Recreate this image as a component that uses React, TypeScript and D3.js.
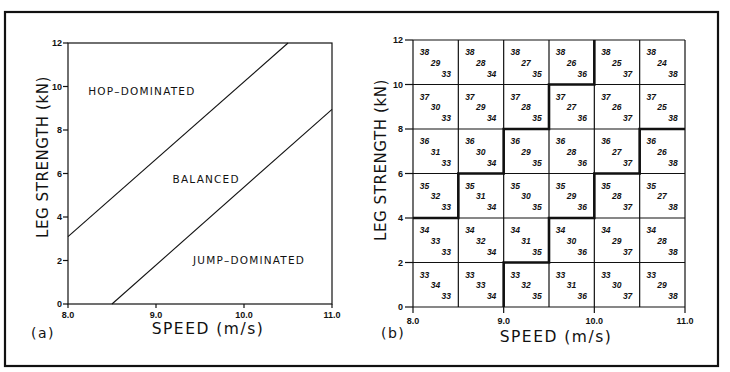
import * as d3 from "d3";
import { useLayoutEffect } from "react";

// panel (a): boundary lines in speed / strength space
const hopLine = [
  { speed: 8.0, strength: 3.1 },
  { speed: 10.5, strength: 12.0 },
];
const jumpLine = [
  { speed: 8.5, strength: 0.0 },
  { speed: 11.0, strength: 8.95 },
];
const regionLabels = [
  { text: "HOP–DOMINATED", speed: 8.23, strength: 9.8, anchor: "start" },
  { text: "BALANCED", speed: 9.57, strength: 5.75, anchor: "middle" },
  { text: "JUMP–DOMINATED", speed: 9.42, strength: 2.0, anchor: "start" },
];

const speedTicks = [8.0, 9.0, 10.0, 11.0];
const strengthTicks = [0, 2, 4, 6, 8, 10, 12];

// panel (b): grid of cells
const cellSpeeds = [8.0, 8.5, 9.0, 9.5, 10.0, 10.5];
const cellStrengths = [10, 8, 6, 4, 2, 0];
const rowFirst = [38, 37, 36, 35, 34, 33];
const cellMiddle = [
  [29, 28, 27, 26, 25, 24],
  [30, 29, 28, 27, 26, 25],
  [31, 30, 29, 28, 27, 26],
  [32, 31, 30, 29, 28, 27],
  [33, 32, 31, 30, 29, 28],
  [34, 33, 32, 31, 30, 29],
];
const colLast = [33, 34, 35, 36, 37, 38];

const hopBoundary: [number, number][] = [
  [8.0, 4], [8.5, 4], [8.5, 6], [9.0, 6], [9.0, 8], [9.5, 8], [9.5, 10], [10.0, 10], [10.0, 12],
];
const jumpBoundary: [number, number][] = [
  [9.0, 0], [9.0, 2], [9.5, 2], [9.5, 4], [10.0, 4], [10.0, 6], [10.5, 6], [10.5, 8], [11.0, 8],
];

const FONT = "'DejaVu Sans', 'Liberation Sans', sans-serif";
const TICKFONT = "'Liberation Sans', Arial, sans-serif";
const INK = "#111";

function PanelA() {
  const x = d3.scaleLinear().domain([8, 11]).range([68, 332]);
  const y = d3.scaleLinear().domain([0, 12]).range([304, 43]);
  const line = d3
    .line<{ speed: number; strength: number }>()
    .x((d) => x(d.speed))
    .y((d) => y(d.strength));
  return (
    <g>
      <rect x={x(8)} y={y(12)} width={x(11) - x(8)} height={y(0) - y(12)} fill="none" stroke={INK} strokeWidth={1.2} />
      {strengthTicks.map((t) => (
        <g key={t}>
          <line x1={x(8) - 5} x2={x(8)} y1={y(t)} y2={y(t)} stroke={INK} strokeWidth={1.2} />
          <text x={x(8) - 6} y={y(t)} dy="0.35em" textAnchor="end" fontSize={9} fontWeight={700} fontFamily={TICKFONT} fill={INK}>
            {t}
          </text>
        </g>
      ))}
      {speedTicks.map((t) => (
        <g key={t}>
          <line x1={x(t)} x2={x(t)} y1={y(0)} y2={y(0) + 4} stroke={INK} strokeWidth={1.2} />
          <text x={x(t)} y={y(0) + 14} textAnchor="middle" fontSize={9} fontWeight={700} fontFamily={TICKFONT} fill={INK}>
            {t.toFixed(1)}
          </text>
        </g>
      ))}
      <path d={line(hopLine) || ""} fill="none" stroke={INK} strokeWidth={1.1} />
      <path d={line(jumpLine) || ""} fill="none" stroke={INK} strokeWidth={1.1} />
      {regionLabels.map((r) => (
        <text key={r.text} x={x(r.speed)} y={y(r.strength)} dy="0.35em" textAnchor={r.anchor} fontSize={10.5} letterSpacing={1.2} fontFamily={FONT} fill={INK}>
          {r.text}
        </text>
      ))}
      <text x={208} y={334} textAnchor="middle" fontSize={15.5} letterSpacing={1.5} fontFamily={FONT} fill={INK}>
        SPEED (m/s)
      </text>
      <text transform="translate(48,157) rotate(-90)" textAnchor="middle" fontSize={15} letterSpacing={0.6} fontFamily={FONT} fill={INK}>
        LEG STRENGTH (kN)
      </text>
      <text x={31} y={338} fontSize={14} letterSpacing={1.5} fontFamily={FONT} fill={INK}>
        (a)
      </text>
    </g>
  );
}

function PanelB() {
  const x = d3.scaleLinear().domain([8, 11]).range([413, 685]);
  const y = d3.scaleLinear().domain([0, 12]).range([307, 40]);
  const step = d3
    .line<[number, number]>()
    .x((d) => x(d[0]))
    .y((d) => y(d[1]));
  const cw = x(8.5) - x(8);
  const ch = y(0) - y(2);
  return (
    <g>
      {cellStrengths.map((s) => (
        <line key={"h" + s} x1={x(8)} x2={x(11)} y1={y(s + 2)} y2={y(s + 2)} stroke={INK} strokeWidth={1.2} />
      ))}
      <line x1={x(8)} x2={x(11)} y1={y(0)} y2={y(0)} stroke={INK} strokeWidth={1.2} />
      {cellSpeeds.map((s) => (
        <line key={"v" + s} x1={x(s)} x2={x(s)} y1={y(0)} y2={y(12)} stroke={INK} strokeWidth={1.2} />
      ))}
      <line x1={x(11)} x2={x(11)} y1={y(0)} y2={y(12)} stroke={INK} strokeWidth={1.2} />
      {strengthTicks.map((t) => (
        <g key={t}>
          <line x1={x(8) - 8} x2={x(8)} y1={y(t)} y2={y(t)} stroke={INK} strokeWidth={1.2} />
          <text x={x(8) - 10} y={y(t)} dy="0.35em" textAnchor="end" fontSize={9} fontWeight={700} fontFamily={TICKFONT} fill={INK}>
            {t}
          </text>
        </g>
      ))}
      {speedTicks.map((t) => (
        <g key={t}>
          <line x1={x(t)} x2={x(t)} y1={y(0)} y2={y(0) + 6} stroke={INK} strokeWidth={1.2} />
          <text x={x(t)} y={y(0) + 17} textAnchor="middle" fontSize={9} fontWeight={700} fontFamily={TICKFONT} fill={INK}>
            {t.toFixed(1)}
          </text>
        </g>
      ))}
      <path d={step(hopBoundary) || ""} fill="none" stroke={INK} strokeWidth={2.6} />
      <path d={step(jumpBoundary) || ""} fill="none" stroke={INK} strokeWidth={2.6} />
      {cellStrengths.map((s, ri) =>
        cellSpeeds.map((sp, ci) => {
          const left = x(sp);
          const top = y(s + 2);
          return (
            <g key={ri + "-" + ci} fontSize={8.5} fontWeight={700} fontStyle="italic" fontFamily={TICKFONT} fill={INK}>
              <text x={left + cw * 0.15} y={top + ch * 0.34}>{rowFirst[ri]}</text>
              <text x={left + cw * 0.39} y={top + ch * 0.58}>{cellMiddle[ri][ci]}</text>
              <text x={left + cw * 0.63} y={top + ch * 0.83}>{colLast[ci]}</text>
            </g>
          );
        })
      )}
      <text x={556} y={342} textAnchor="middle" fontSize={15.5} letterSpacing={1.5} fontFamily={FONT} fill={INK}>
        SPEED (m/s)
      </text>
      <text transform="translate(386,160) rotate(-90)" textAnchor="middle" fontSize={15} letterSpacing={0.6} fontFamily={FONT} fill={INK}>
        LEG STRENGTH (kN)
      </text>
      <text x={381} y={338} fontSize={14} letterSpacing={1.5} fontFamily={FONT} fill={INK}>
        (b)
      </text>
    </g>
  );
}

export default function App() {
  useLayoutEffect(() => {
    document.body.style.margin = "0";
  }, []);
  return (
    <svg width={730} height={372} style={{ display: "block", background: "#fff" }}>
      <rect x={5} y={12} width={713} height={354} fill="none" stroke={INK} strokeWidth={2.2} />
      <PanelA />
      <PanelB />
    </svg>
  );
}
